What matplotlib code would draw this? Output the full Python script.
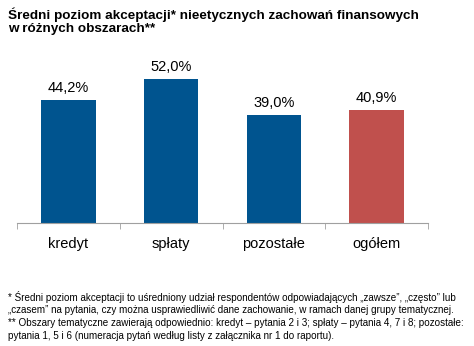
import matplotlib.pyplot as plt

plt.rcParams['font.family'] = ['Liberation Sans', 'DejaVu Sans']

kategorie = ['kredyt', 'spłaty', 'pozostałe', 'ogółem']
wartosci = [44.2, 52.0, 39.0, 40.9]
etykiety = ['44,2%', '52,0%', '39,0%', '40,9%']
kolory = ['#00548F', '#00548F', '#00548F', '#C0504D']

tytul = 'Średni poziom akceptacji* nieetycznych zachowań finansowych\nw różnych obszarach**'
przypis = ('* Średni poziom akceptacji to uśredniony udział respondentów odpowiadających „zawsze”, „często” lub\n'
           '„czasem” na pytania, czy można usprawiedliwić dane zachowanie, w ramach danej grupy tematycznej.\n'
           '** Obszary tematyczne zawierają odpowiednio: kredyt – pytania 2 i 3; spłaty – pytania 4, 7 i 8; pozostałe:\n'
           'pytania 1, 5 i 6 (numeracja pytań według listy z załącznika nr 1 do raportu).')

fig = plt.figure(figsize=(4.74, 3.46), dpi=100)
ax = fig.add_axes([0.036, 0.3564, 0.867, 0.4795])

x = range(len(kategorie))
ax.bar(x, wartosci, width=0.53, color=kolory)
for xi, v, t in zip(x, wartosci, etykiety):
    ax.text(xi, v + 1.8, t, ha='center', va='bottom', fontsize=10.5)

ax.set_xlim(-0.5, 3.5)
ax.set_ylim(0, 60)
ax.set_yticks([])
for s in ['top', 'right', 'left']:
    ax.spines[s].set_visible(False)
ax.spines['bottom'].set_color('#A0A0A0')
ax.set_xticks([-0.5, 0.5, 1.5, 2.5, 3.5], minor=True)
ax.set_xticks(list(x))
ax.set_xticklabels(kategorie, fontsize=10.5)
ax.tick_params(axis='x', which='major', length=0, pad=10)
ax.tick_params(axis='x', which='minor', length=4, color='#A0A0A0')

fig.text(0.017, 0.978, tytul, ha='left', va='top', fontsize=9.7,
         fontweight='bold', linespacing=1.15)
fig.text(0.017, 0.087, przypis, ha='left', va='center', fontsize=7.1,
         linespacing=1.35)

fig.savefig('out.png', dpi=100)
